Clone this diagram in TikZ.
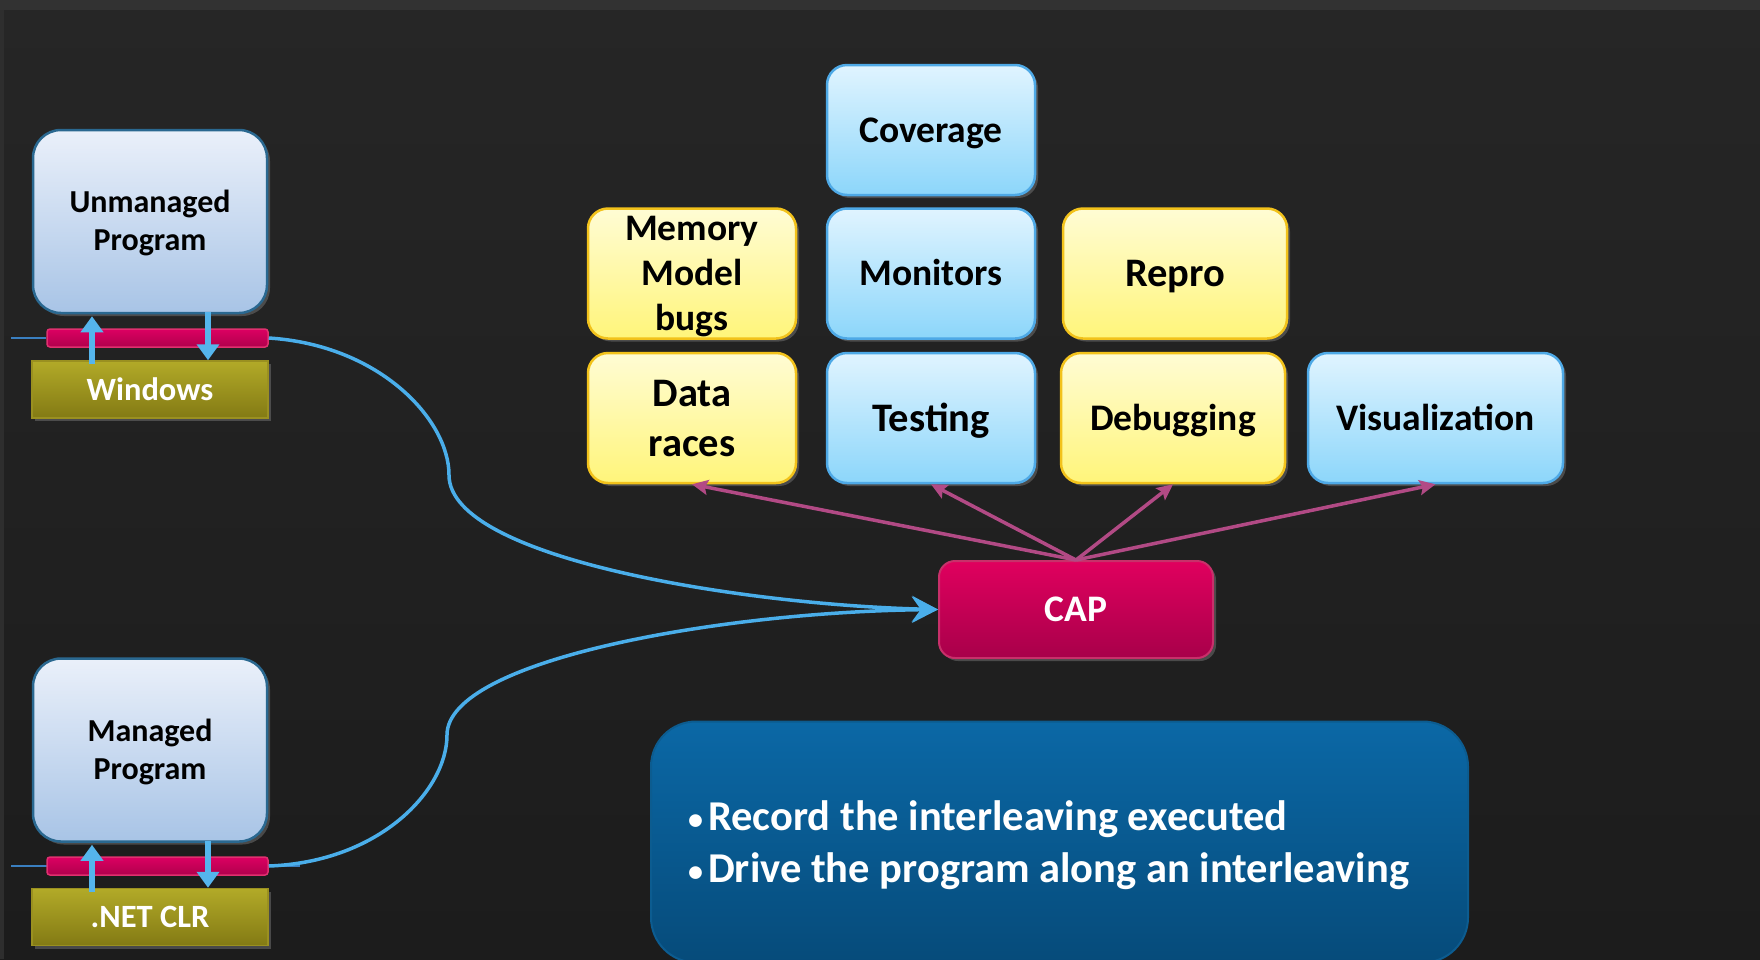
\documentclass[tikz,border=0pt]{standalone}
\usepackage{fontspec}
\setmainfont{Carlito}
\usetikzlibrary{arrows.meta,shadows}
\definecolor{bgtop}{HTML}{262626}
\definecolor{bgbot}{HTML}{1C1C1C}
\definecolor{bandc}{HTML}{323232}
\definecolor{progtop}{HTML}{EAF0FA}
\definecolor{progbot}{HTML}{A8C4E6}
\definecolor{progb}{HTML}{2A6890}
\definecolor{bartop}{HTML}{DC0062}
\definecolor{barbot}{HTML}{B0004C}
\definecolor{barb}{HTML}{E0306F}
\definecolor{wintop}{HTML}{B2AA28}
\definecolor{winbot}{HTML}{837A14}
\definecolor{winb}{HTML}{9A9020}
\definecolor{bluetop}{HTML}{E0F4FF}
\definecolor{bluebot}{HTML}{8CD6FA}
\definecolor{blueb}{HTML}{4EA9E6}
\definecolor{yeltop}{HTML}{FFFCD4}
\definecolor{yelbot}{HTML}{FFF57A}
\definecolor{yelb}{HTML}{F2C21B}
\definecolor{captop}{HTML}{E0005E}
\definecolor{capbot}{HTML}{A8004A}
\definecolor{capb}{HTML}{C8306A}
\definecolor{bultop}{HTML}{0B68A6}
\definecolor{bulbot}{HTML}{064B7A}
\definecolor{bulb}{HTML}{0C5C90}
\definecolor{magc}{HTML}{B24A85}
\definecolor{curvec}{HTML}{4AAEEA}
\definecolor{arrc}{HTML}{55B5EC}
\definecolor{thinc}{HTML}{3A7FC0}
\newcommand\smallbul{\makebox[20pt][l]{\raisebox{1pt}{\fontsize{30}{30}\selectfont •}}}
\tikzset{
  shad/.style={drop shadow={opacity=0.45,shadow xshift=3pt,shadow yshift=-3pt}},
  prog/.style={shad,draw=progb,line width=2.5pt,rounded corners=28pt,top color=progtop,bottom color=progbot,
    minimum width=234pt,minimum height=183pt,align=center,inner sep=0pt,text=black,
    font=\fontsize{32}{38}\selectfont\bfseries,text height=58.6pt,text depth=0pt},
  barbox/.style={draw=barb,line width=1.5pt,rounded corners=3pt,top color=bartop,bottom color=barbot,
    minimum width=221pt,minimum height=18pt,inner sep=0pt},
  osbox/.style={shad,draw=winb,line width=1.5pt,top color=wintop,bottom color=winbot,
    minimum width=236pt,minimum height=57pt,inner sep=0pt,text=white,
    font=\fontsize{32.5}{38}\selectfont\bfseries,text height=21pt,text depth=0pt},
  bluebox/.style={shad,draw=blueb,line width=2.5pt,rounded corners=20pt,top color=bluetop,bottom color=bluebot,
    minimum width=208pt,minimum height=130pt,align=center,inner sep=0pt,text=black,
    font=\fontsize{37.5}{45}\selectfont\bfseries,text height=24pt,text depth=0pt},
  yelbox/.style={shad,draw=yelb,line width=2.5pt,rounded corners=20pt,top color=yeltop,bottom color=yelbot,
    minimum width=208pt,minimum height=130pt,align=center,inner sep=0pt,text=black,
    font=\fontsize{37.5}{45}\selectfont\bfseries,text height=24pt,text depth=0pt},
  big/.style={font=\fontsize{40.5}{50}\selectfont\bfseries,text height=26pt},
  capbox/.style={shad,draw=capb,line width=2pt,rounded corners=16pt,top color=captop,bottom color=capbot,
    minimum width=274pt,minimum height=97pt,inner sep=0pt,text=white,
    font=\fontsize{37.5}{44}\selectfont\bfseries,text height=24pt,text depth=0pt},
  bulbox/.style={draw=bulb,line width=2pt,rounded corners=45pt,top color=bultop,bottom color=bulbot,
    minimum width=817pt,minimum height=241pt,inner sep=0pt},
  curve/.style={draw=curvec,line width=3.5pt,-{Stealth[length=26pt,width=26pt,inset=9pt]}},
  thinl/.style={draw=thinc,line width=2pt},
  barrow/.style={draw=arrc,line width=6pt,-{Triangle[length=16pt,width=22pt]}},
  marrow/.style={draw=magc,line width=3.5pt,-{Stealth[length=16pt,width=15pt,inset=3pt]}},
}
\begin{document}
\begin{tikzpicture}[x=1pt,y=-1pt]
\useasboundingbox (0,0) rectangle (1760,959);
\fill[top color=bgtop,bottom color=bgbot] (0,0) rectangle (1760,959);
\fill[bandc] (0,0) rectangle (1760,10);
\fill[bandc!92!black] (0,10) rectangle (4,959);

% free-end coordinates
\coordinate (t1) at (11,338);
\coordinate (t2) at (11,866);
\coordinate (t3) at (300,866);
\coordinate (m1) at (449,475);
\coordinate (m2) at (447,735);

% bullet box
\node[bulbox] (bul) at (1059.5,842) {};
\node[anchor=west,inner sep=0pt,align=left,text=white,font=\fontsize{42.5}{52}\selectfont\bfseries] (bultext) at (688,845)
  {\smallbul Record the interleaving executed\\\smallbul Drive the program along an interleaving};

\node[capbox] (cap) at (1076,609.5) {CAP};

% interface bars and thin lines
\draw[thinl] (t2) -- (t3);
\node[barbox] (bar1) at (157.5,338) {};
\node[barbox] (bar2) at (157.5,866) {};
\draw[thinl] (t1) -- (bar1.west);

% curves to CAP
\draw[curve] (bar1.east) .. controls (380,345) and (449,420) .. (m1) .. controls (449,560) and (750,605) .. (cap.west);
\draw[curve] (bar2.east) .. controls (380,862) and (447,790) .. (m2) .. controls (447,660) and (720,612) .. (cap.west);

\node[prog] (up) at (150,221.5) {Unmanaged\\Program};
\node[osbox] (win) at (150,389.5) {Windows};

\node[prog] (mp) at (150,750) {Managed\\Program};
\node[osbox] (clr) at (150,917) {.NET CLR};

\node[bluebox] (cov) at (931,130) {Coverage};
\node[yelbox,text height=114pt] (mem) at (692,273.5) {Memory\\Model\\bugs};
\node[bluebox] (mon) at (931,273.5) {Monitors};
\node[yelbox,big,minimum width=224pt] (repro) at (1175,273.5) {Repro};
\node[yelbox,big,text height=76pt] (data) at (692,418) {Data\\races};
\node[bluebox,big] (test) at (931,418) {Testing};
\node[yelbox,minimum width=224pt] (debug) at (1173,418) {Debugging};
\node[bluebox,minimum width=255pt] (vis) at (1435.5,418) {Visualization};

% small interface arrows
\draw[barrow] ([xshift=-58pt,yshift=-4pt]win.north) -- ([xshift=-58pt,yshift=-2pt]up.south);
\draw[barrow] ([xshift=58pt,yshift=2pt]up.south) -- ([xshift=58pt]win.north);
\draw[barrow] ([xshift=-58pt,yshift=-4pt]clr.north) -- ([xshift=-58pt,yshift=-2pt]mp.south);
\draw[barrow] ([xshift=58pt,yshift=2pt]mp.south) -- ([xshift=58pt]clr.north);

% CAP to tools
\draw[marrow] (cap.north) -- (data.south);
\draw[marrow] (cap.north) -- (test.south);
\draw[marrow] (cap.north) -- (debug.south);
\draw[marrow] (cap.north) -- (vis.south);
\end{tikzpicture}
\end{document}
